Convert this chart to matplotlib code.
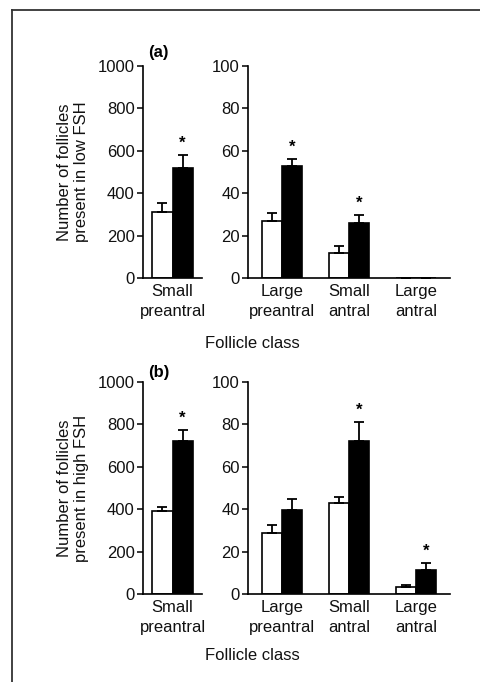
import numpy as np
import matplotlib
matplotlib.use("Agg")
import matplotlib.pyplot as plt
from matplotlib.lines import Line2D

plt.rcParams['font.family'] = ['Liberation Sans', 'DejaVu Sans']
plt.rcParams['font.size'] = 12

# data (open = control, filled = treated)
left_classes = ["Small\npreantral"]
right_classes = ["Large\npreantral", "Small\nantral", "Large\nantral"]

a_left_open = [310]
a_left_open_err = [46]
a_left_fill = [517]
a_left_fill_err = [63]
a_left_star = [True]

a_right_open = [27, 12, 0]
a_right_open_err = [3.8, 3.0, 0]
a_right_fill = [53, 26, 0]
a_right_fill_err = [3.2, 3.8, 0]
a_right_star = [True, True, False]

b_left_open = [392]
b_left_open_err = [20]
b_left_fill = [721]
b_left_fill_err = [52]
b_left_star = [True]

b_right_open = [28.8, 42.9, 3.4]
b_right_open_err = [3.6, 2.9, 0.8]
b_right_fill = [39.8, 72.3, 11.1]
b_right_fill_err = [5.0, 9.0, 3.5]
b_right_star = [False, True, True]

W, H = 480, 682
fig = plt.figure(figsize=(W / 100, H / 100), dpi=100)

bw = 0.3
txt = '#111111'


def draw(ax, classes, op, op_e, fi, fi_e, stars, ymax, step, xlim):
    x = np.arange(len(classes))
    ekw = dict(lw=1.3, capthick=1.3, ecolor='black')
    ax.bar(x - bw / 2, op, bw, color='white', edgecolor='black', linewidth=1.2,
           yerr=[np.zeros(len(op)), op_e], capsize=3.5, error_kw=ekw, zorder=2)
    ax.bar(x + bw / 2, fi, bw, color='black', edgecolor='black', linewidth=1.2,
           yerr=[np.zeros(len(fi)), fi_e], capsize=3.5, error_kw=ekw, zorder=2)
    for xi, v, e, s in zip(x, fi, fi_e, stars):
        if s:
            ax.annotate("*", (xi + bw / 2, v + e), xytext=(0, 3), textcoords='offset points',
                        ha='center', va='bottom', fontsize=12, fontweight='bold')
    ax.set_xlim(*xlim)
    ax.set_ylim(0, ymax)
    ax.set_yticks(np.arange(0, ymax + 1, step))
    ax.set_xticks(x)
    ax.set_xticklabels(classes, linespacing=1.45)
    for sp in ['top', 'right']:
        ax.spines[sp].set_visible(False)
    ax.spines['left'].set_linewidth(1.2)
    ax.spines['bottom'].set_linewidth(1.2)
    ax.tick_params(axis='y', direction='out', length=4, width=1.1, pad=2,
                   labelsize=12, labelcolor=txt)
    ax.tick_params(axis='x', length=0, pad=4, labelsize=12, labelcolor=txt)


def px_axes(x0, x1, ytop, ybot):
    return fig.add_axes([x0 / W, 1 - ybot / H, (x1 - x0) / W, (ybot - ytop) / H])


# panel (a)
axl = px_axes(143, 202, 66, 278)
axr = px_axes(248, 450, 66, 278)
draw(axl, left_classes, a_left_open, a_left_open_err, a_left_fill, a_left_fill_err,
     a_left_star, 1000, 200, (-0.44, 0.44))
draw(axr, right_classes, a_right_open, a_right_open_err, a_right_fill, a_right_fill_err,
     a_right_star, 100, 20, (-0.51, 2.51))
axl.set_ylabel("Number of follicles\npresent in low FSH", fontsize=12, labelpad=6, color=txt)

# panel (b)
bxl = px_axes(143, 202, 382, 594)
bxr = px_axes(248, 450, 382, 594)
draw(bxl, left_classes, b_left_open, b_left_open_err, b_left_fill, b_left_fill_err,
     b_left_star, 1000, 200, (-0.44, 0.44))
draw(bxr, right_classes, b_right_open, b_right_open_err, b_right_fill, b_right_fill_err,
     b_right_star, 100, 20, (-0.51, 2.51))
bxl.set_ylabel("Number of follicles\npresent in high FSH", fontsize=12, labelpad=6, color=txt)

fig.text(158 / W, 1 - 52 / H, "(a)", ha='center', va='center', fontsize=12, fontweight='bold')
fig.text(159 / W, 1 - 373 / H, "(b)", ha='center', va='center', fontsize=12, fontweight='bold')
fig.text(252 / W, 1 - 343 / H, "Follicle class", ha='center', va='center', fontsize=12, color=txt)
fig.text(252 / W, 1 - 655 / H, "Follicle class", ha='center', va='center', fontsize=12, color=txt)

# outer frame (top and left edges)
fig.add_artist(Line2D([12 / W, 1], [1 - 10 / H, 1 - 10 / H], transform=fig.transFigure,
                      color='#333333', lw=1.3))
fig.add_artist(Line2D([12 / W, 12 / W], [0, 1 - 10 / H], transform=fig.transFigure,
                      color='#333333', lw=1.3))

fig.savefig("out.png", dpi=100)
